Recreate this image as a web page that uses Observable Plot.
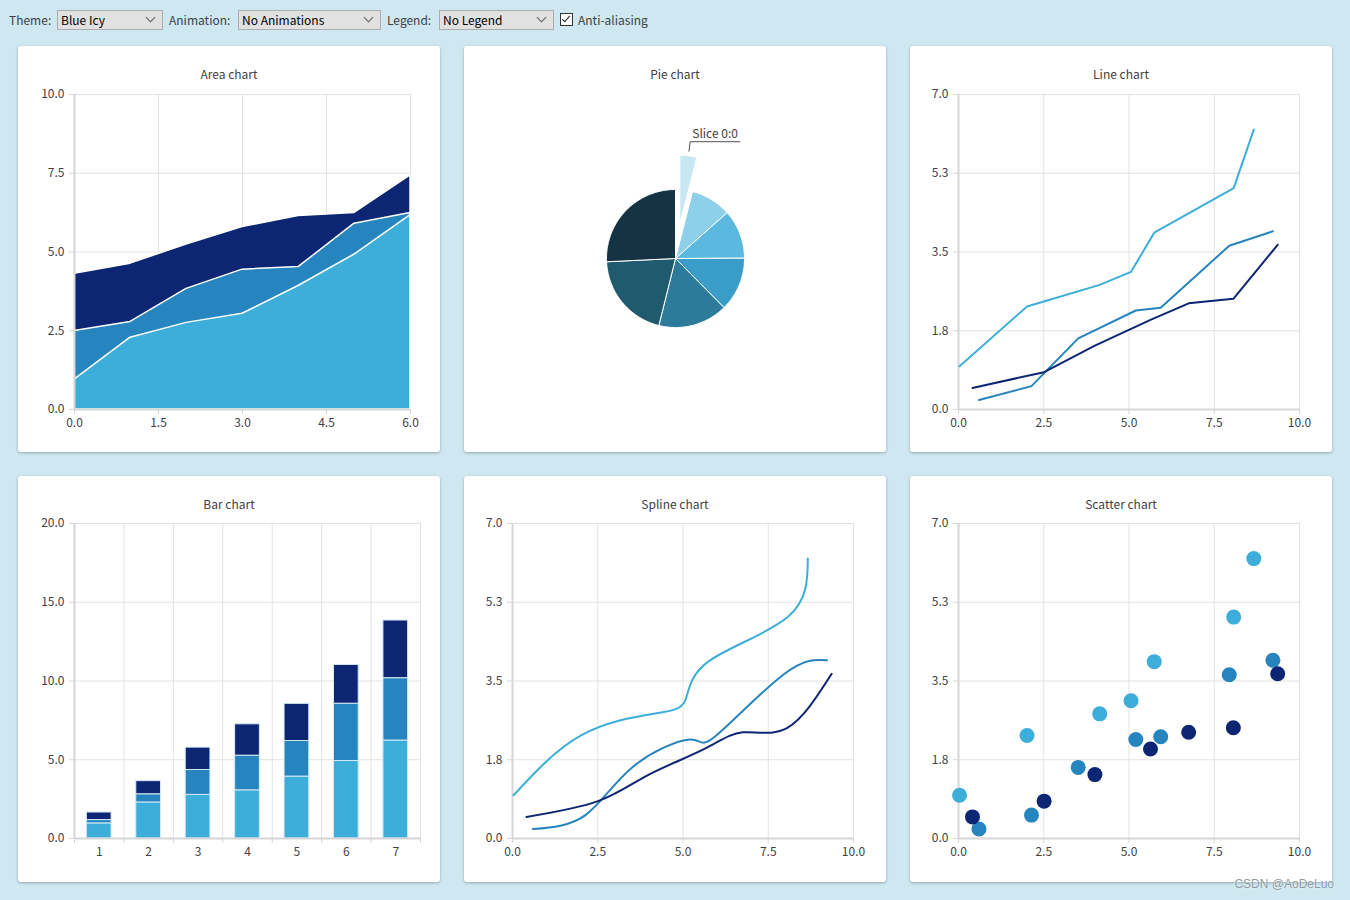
<!DOCTYPE html>
<html><head><meta charset="utf-8">
<script src="https://cdn.jsdelivr.net/npm/d3@7"></script>
<script src="https://cdn.jsdelivr.net/npm/@observablehq/plot@0.6"></script>
<style>
body{margin:0;width:1350px;height:900px;background:#cee7f0;font-family:"Noto Sans CJK SC","Noto Sans",sans-serif;font-size:12px;color:#404044;position:relative;overflow:hidden}
.lbl{position:absolute;top:11px;line-height:18px;color:#404044}
.combo{position:absolute;top:10px;height:18px;border:1px solid #adadad;background:#e1e1e1;line-height:18px;padding-left:3px;color:#000}
.chev{position:absolute;right:8px;top:3px;width:6px;height:6px;border-right:1px solid #606060;border-bottom:1px solid #606060;transform:rotate(45deg)}
.chk{position:absolute;left:560px;top:13px;width:11px;height:11px;border:1px solid #333;background:#fff}
.chk:after{content:"";position:absolute;left:3px;top:0px;width:3px;height:7px;border-right:1px solid #222;border-bottom:1px solid #222;transform:rotate(40deg)}
.card{position:absolute;width:422px;height:406px;background:#fff;border-radius:3px;box-shadow:0 1px 3px rgba(0,0,0,.28)}
.title{position:absolute;top:20px;left:0;width:100%;text-align:center;line-height:16px;color:#404044}
.card svg{position:absolute;top:38px;left:0}
.wm{position:absolute;right:16px;top:877px;color:#8d9ba4;text-shadow:0 0 2px #fff;font-family:"Liberation Sans",Arial,sans-serif}
</style></head>
<body>
<div class="lbl" style="left:9px">Theme:</div>
<div class="combo" style="left:57px;width:101px">Blue Icy<div class="chev"></div></div>
<div class="lbl" style="left:169px">Animation:</div>
<div class="combo" style="left:238px;width:138px">No Animations<div class="chev"></div></div>
<div class="lbl" style="left:387px">Legend:</div>
<div class="combo" style="left:439px;width:110px">No Legend<div class="chev"></div></div>
<div class="chk"></div>
<div class="lbl" style="left:578px">Anti-aliasing</div>
<div id="c0" class="card" style="left:18px;top:46px"><div class="title">Area chart</div></div>
<div id="c1" class="card" style="left:464px;top:46px"><div class="title">Pie chart</div></div>
<div id="c2" class="card" style="left:910px;top:46px"><div class="title">Line chart</div></div>
<div id="c3" class="card" style="left:18px;top:476px"><div class="title">Bar chart</div></div>
<div id="c4" class="card" style="left:464px;top:476px"><div class="title">Spline chart</div></div>
<div id="c5" class="card" style="left:910px;top:476px"><div class="title">Scatter chart</div></div>
<div class="wm">CSDN @AoDeLuo</div>
<script>
// ---- data ----
const seriesColors = ["#3daeda", "#2685bf", "#0c2673"];
const xs0 = [0.03, 2.01, 4.14, 5.06, 5.74, 8.07, 8.66];
const ys0 = [0.96, 2.29, 2.77, 3.06, 3.93, 4.92, 6.22];
const xs1 = [0.60, 2.14, 3.51, 5.20, 5.93, 7.94, 9.22];
const ys1 = [0.21, 0.52, 1.58, 2.20, 2.26, 3.64, 3.96];
const xs2 = [0.41, 2.51, 4.00, 5.63, 6.75, 8.06, 9.36];
const ys2 = [0.48, 0.83, 1.42, 1.99, 2.36, 2.46, 3.66];

const areaX = [0, 1, 2, 3, 4, 5, 6];
const areaTop1 = [0.95, 2.28, 2.75, 3.04, 3.92, 4.92, 6.17];
const areaTop2 = [2.49, 2.78, 3.83, 4.44, 4.52, 5.90, 6.24];
const areaTop3 = [4.31, 4.63, 5.24, 5.79, 6.14, 6.24, 7.43];

const barCategories = [1, 2, 3, 4, 5, 6, 7];
const pieLabels = ["Slice 0:0", "Slice 0:1", "Slice 0:2", "Slice 0:3", "Slice 0:4", "Slice 0:5", "Slice 0:6"];
const pieValues = ys0;
const pieColors = ["#c7e7f3", "#8ed0ea", "#5bb9df", "#3a9cc8", "#2c7b9a", "#1f5a6e", "#153443"];

const areaXTicks = [0, 1.5, 3, 4.5, 6];
const areaYTicks = [0, 2.5, 5, 7.5, 10];
const xyXTicks = [0, 2.5, 5, 7.5, 10];
const xyYTicks = [0, 1.75, 3.5, 5.25, 7];
const barYTicks = [0, 5, 10, 15, 20];

// ---- styling ----
const GRID = "#e2e2e2", AXIS = "#d6d6d6", TEXT = "#404044";
const W = 422, H = 368;
const style = {fontSize: "12px", fontFamily: '"Noto Sans CJK SC","Noto Sans",sans-serif', color: TEXT, background: "transparent", overflow: "visible"};
const f1 = d => d.toFixed(1);

function grid(xt, yt) {
  return [
    Plot.gridX(xt, {stroke: GRID, strokeOpacity: 1, strokeWidth: 1}),
    Plot.gridY(yt, {stroke: GRID, strokeOpacity: 1, strokeWidth: 1})
  ];
}
function axes(xt, yt, x0, xfmt) {
  return [
    Plot.ruleX([x0], {stroke: AXIS, strokeWidth: 2}),
    Plot.ruleY([0], {stroke: AXIS, strokeWidth: 2}),
    Plot.axisY(yt, {tickSize: 5, tickPadding: 5, tickFormat: f1, stroke: AXIS, fill: TEXT, label: null}),
    Plot.axisX(xt, {tickSize: 5, tickPadding: 4, tickFormat: xfmt || f1, stroke: AXIS, fill: TEXT, label: null})
  ];
}
function pts(xs, ys) { return xs.map((x, i) => ({x, y: ys[i]})); }

// ---- Area chart ----
document.getElementById("c0").append(Plot.plot({
  width: W, height: H, marginTop: 10, marginBottom: 43, marginLeft: 56, marginRight: 30, style,
  x: {domain: [0, 6]}, y: {domain: [0, 10]},
  marks: [
    ...grid(areaXTicks, areaYTicks),
    Plot.areaY(pts(areaX, areaTop3), {x: "x", y2: "y", y1: 0, fill: seriesColors[2], stroke: "white", strokeWidth: 1.5}),
    Plot.areaY(pts(areaX, areaTop2), {x: "x", y2: "y", y1: 0, fill: seriesColors[1], stroke: "white", strokeWidth: 1.5}),
    Plot.areaY(pts(areaX, areaTop1), {x: "x", y2: "y", y1: 0, fill: seriesColors[0], stroke: "white", strokeWidth: 1.5}),
    ...axes(areaXTicks, areaYTicks, 0)
  ]
}));

// ---- Pie chart ----
(function () {
  const R = 69; // px per unit radius
  const total = d3.sum(pieValues);
  let acc = 0;
  const marks = [];
  let labelInfo = null;
  pieValues.forEach((v, i) => {
    const a0 = acc / total * 2 * Math.PI, a1 = (acc + v) / total * 2 * Math.PI;
    acc += v;
    const mid = (a0 + a1) / 2;
    const off = i === 0 ? 0.5 : 0;
    const cx = off * Math.sin(mid), cy = off * Math.cos(mid);
    const p = [[cx, cy]];
    const n = Math.max(4, Math.ceil((a1 - a0) / (Math.PI / 180)));
    for (let k = 0; k <= n; k++) {
      const a = a0 + (a1 - a0) * k / n;
      p.push([cx + Math.sin(a), cy + Math.cos(a)]);
    }
    p.push([cx, cy]);
    marks.push(Plot.line(p, {x: d => d[0], y: d => d[1], fill: pieColors[i], stroke: "white", strokeWidth: 1}));
    if (i === 0) {
      const dx = Math.sin(mid), dy = Math.cos(mid);
      const p1 = [cx + 1.068 * dx, cy + 1.068 * dy];
      const p2 = [cx + 1.206 * dx, cy + 1.206 * dy];
      const p3 = [p2[0] + 0.72, p2[1]];
      labelInfo = {line: [p1, p2, p3], text: [{x: p2[0] + 0.03, y: p2[1], t: pieLabels[0]}]};
    }
  });
  marks.push(Plot.line(labelInfo.line, {x: d => d[0], y: d => d[1], stroke: "#505055", strokeWidth: 1}));
  marks.push(Plot.text(labelInfo.text, {x: "x", y: "y", text: "t", textAnchor: "start", lineAnchor: "bottom", dy: -4, fill: TEXT, fontSize: 12}));
  document.getElementById("c1").append(Plot.plot({
    width: W, height: H, margin: 0, style,
    x: {domain: [-211 / R, 211 / R], axis: null},
    y: {domain: [-194 / R, 174 / R], axis: null},
    marks
  }));
})();

// ---- Line chart ----
const xyOpts = {width: W, height: H, marginTop: 10, marginBottom: 43, marginLeft: 48, marginRight: 33, style,
  x: {domain: [0, 10]}, y: {domain: [0, 7]}};
document.getElementById("c2").append(Plot.plot({
  ...xyOpts,
  marks: [
    ...grid(xyXTicks, xyYTicks),
    ...axes(xyXTicks, xyYTicks, 0),
    Plot.line(pts(xs0, ys0), {x: "x", y: "y", stroke: seriesColors[0], strokeWidth: 2}),
    Plot.line(pts(xs1, ys1), {x: "x", y: "y", stroke: seriesColors[1], strokeWidth: 2}),
    Plot.line(pts(xs2, ys2), {x: "x", y: "y", stroke: seriesColors[2], strokeWidth: 2})
  ]
}));

// ---- Bar chart ----
const barRows = [];
barCategories.forEach((c, j) => {
  let base = 0;
  [ys0, ys1, ys2].forEach((ys, s) => {
    barRows.push({cat: c, s, y1: base, y2: base + ys[j]});
    base += ys[j];
  });
});
const barBounds = [0.5, 1.5, 2.5, 3.5, 4.5, 5.5, 6.5, 7.5];
document.getElementById("c3").append(Plot.plot({
  width: W, height: H, marginTop: 9, marginBottom: 44, marginLeft: 56, marginRight: 20, style,
  x: {domain: [0.5, 7.5]}, y: {domain: [0, 20]}, color: {type: "identity"},
  marks: [
    ...grid(barBounds, barYTicks),
    Plot.rect(barRows, {x1: d => d.cat - 0.25, x2: d => d.cat + 0.25, y1: "y1", y2: "y2", fill: d => seriesColors[d.s], stroke: "#d4eaf4", strokeWidth: 1}),
    Plot.ruleX([0.5], {stroke: AXIS, strokeWidth: 2}),
    Plot.ruleY([0], {stroke: AXIS, strokeWidth: 2}),
    Plot.axisY(barYTicks, {tickSize: 5, tickPadding: 5, tickFormat: f1, stroke: AXIS, fill: TEXT, label: null}),
    Plot.axisX(barBounds, {tickSize: 5, tickFormat: () => "", stroke: AXIS, label: null}),
    Plot.axisX(barCategories, {tickSize: 0, tickPadding: 9, tickFormat: d => String(d), fill: TEXT, label: null})
  ]
}));

// ---- Spline chart ----
const xyOpts2 = {...xyOpts, marginTop: 9, marginBottom: 44};
document.getElementById("c4").append(Plot.plot({
  ...xyOpts2,
  marks: [
    ...grid(xyXTicks, xyYTicks),
    ...axes(xyXTicks, xyYTicks, 0),
    Plot.line(pts(xs0, ys0), {x: "x", y: "y", stroke: seriesColors[0], strokeWidth: 2, curve: "natural"}),
    Plot.line(pts(xs1, ys1), {x: "x", y: "y", stroke: seriesColors[1], strokeWidth: 2, curve: "natural"}),
    Plot.line(pts(xs2, ys2), {x: "x", y: "y", stroke: seriesColors[2], strokeWidth: 2, curve: "natural"})
  ]
}));

// ---- Scatter chart ----
document.getElementById("c5").append(Plot.plot({
  ...xyOpts2,
  marks: [
    ...grid(xyXTicks, xyYTicks),
    ...axes(xyXTicks, xyYTicks, 0),
    Plot.dot(pts(xs0, ys0), {x: "x", y: "y", r: 7.5, fill: seriesColors[0], stroke: null}),
    Plot.dot(pts(xs1, ys1), {x: "x", y: "y", r: 7.5, fill: seriesColors[1], stroke: null}),
    Plot.dot(pts(xs2, ys2), {x: "x", y: "y", r: 7.5, fill: seriesColors[2], stroke: null})
  ]
}));
</script>
</body></html>
